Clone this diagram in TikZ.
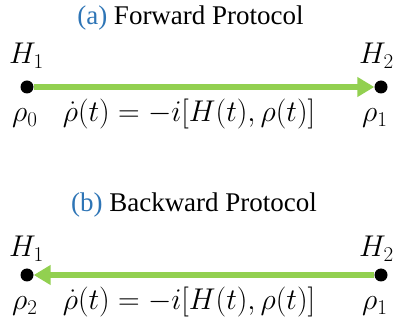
\documentclass[tikz,border=0pt]{standalone}
\usepackage{fix-cm}
\usepackage{fontspec}
\setmainfont{Liberation Serif}
\usepackage{xcolor}
\usetikzlibrary{arrows.meta}
\definecolor{flowgreen}{HTML}{92D050}
\definecolor{capblue}{HTML}{2E75B6}
\tikzset{
  dot/.style={circle,fill=black,inner sep=0pt,minimum size=13pt},
  flow/.style={line width=5.5pt,flowgreen,-{Triangle[length=17pt,width=19pt]}},
  title/.style={font=\fontsize{27}{32}\selectfont,anchor=base,inner sep=0pt},
  lab/.style={font=\fontsize{30}{34}\selectfont,anchor=base west,inner sep=0pt},
  eqn/.style={font=\fontsize{30}{34}\selectfont,anchor=base,inner sep=0pt}
}
\begin{document}
\begin{tikzpicture}[x=1pt,y=-1pt]
  \useasboundingbox (0,0) rectangle (399,320);
  % (a) forward
  \node[title] (ta) at (190.5,25) {\textcolor{capblue}{(a)} Forward Protocol};
  \node[dot] (A1) at (27,87) {};
  \node[dot] (A2) at (381,87) {};
  \draw[flow] (A1) -- (A2);
  \node[lab] (ha) at (9,64) {$H_1$};
  \node[lab] (hb) at (359,64) {$H_2$};
  \node[lab] (ra) at (12,122) {$\rho_0$};
  \node[lab] (rb) at (362,122) {$\rho_1$};
  \node[eqn] (ea) at (189,122) {$\dot{\rho}(t)=-i[H(t),\rho(t)]$};
  % (b) backward
  \node[title] (tb) at (194,212) {\textcolor{capblue}{(b)} Backward Protocol};
  \node[dot] (B1) at (27,275) {};
  \node[dot] (B2) at (381,275) {};
  \draw[flow] (B2) -- (B1);
  \node[lab] (hc) at (9,257) {$H_1$};
  \node[lab] (hd) at (359,257) {$H_2$};
  \node[lab] (rc) at (12,310) {$\rho_2$};
  \node[lab] (rd) at (362,310) {$\rho_1$};
  \node[eqn] (eb) at (189,310) {$\dot{\rho}(t)=-i[H(t),\rho(t)]$};
\end{tikzpicture}
\end{document}
